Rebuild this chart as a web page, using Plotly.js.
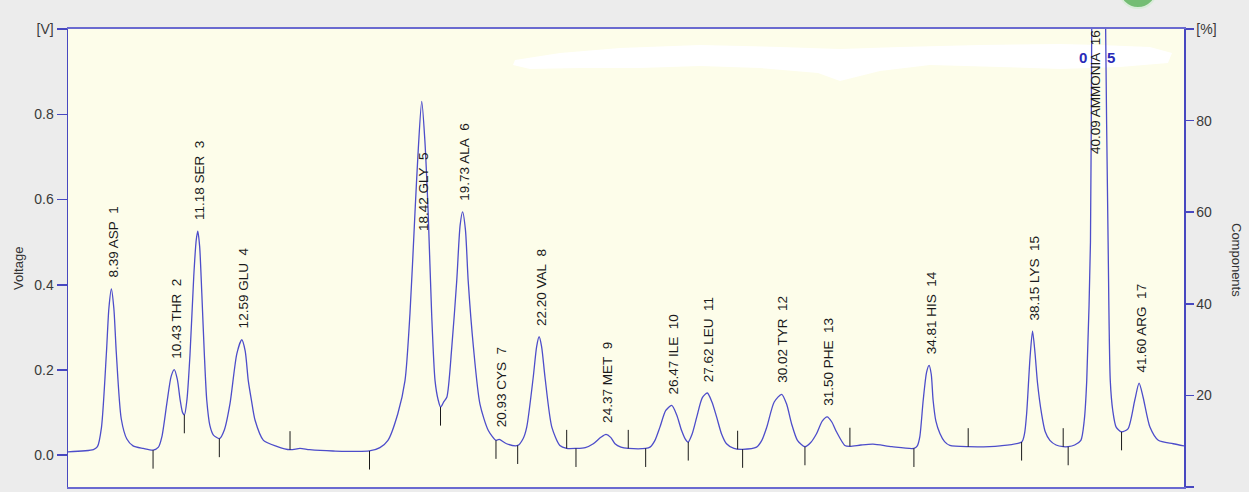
<!DOCTYPE html>
<html>
<head>
<meta charset="utf-8">
<script src="https://cdn.plot.ly/plotly-3.0.1.min.js"></script>
<style>
  html, body { margin: 0; padding: 0; background: #ececec; }
  #chart { width: 1249px; height: 492px; }
</style>
</head>
<body>
<div id="chart"></div>
<script>
// ---- chromatogram trace (retention time [min], detector voltage [V]) ----
const time = [
  6.98, 7.82, 7.95, 8.08, 8.24, 8.32, 8.40, 8.48, 8.56, 8.72, 8.90, 9.10, 9.43, 9.75,
  9.92, 10.03, 10.19, 10.33, 10.43, 10.53, 10.62, 10.70, 10.76,
  10.84, 10.94, 11.06, 11.14, 11.19, 11.25, 11.32, 11.40, 11.48, 11.58, 11.69, 11.89,
  12.05, 12.23, 12.45, 12.61, 12.72, 12.82, 12.92, 13.04, 13.31, 13.74, 14.17, 14.49, 14.80, 15.56, 16.73, 17.07,
  17.33, 17.65, 17.88, 18.04, 18.20, 18.31, 18.42, 18.52, 18.63, 18.74, 18.85, 18.95, 19.03,
  19.13, 19.23, 19.39, 19.55, 19.66, 19.74, 19.83, 19.92, 20.09, 20.30, 20.57, 20.82, 20.92, 21.16, 21.52,
  21.70, 21.81, 22.02, 22.13, 22.21, 22.29, 22.40, 22.62, 22.88, 23.10, 23.40, 23.70,
  23.96, 24.20, 24.37, 24.52, 24.66, 24.85, 25.09, 25.65,
  25.79, 25.95, 26.11, 26.30, 26.49, 26.65, 26.81, 26.93, 27.02,
  27.15, 27.30, 27.48, 27.64, 27.79, 27.94, 28.10, 28.26, 28.50, 28.78, 29.23,
  29.40, 29.56, 29.80, 30.04, 30.20, 30.36, 30.55, 30.79,
  30.98, 31.17, 31.35, 31.51, 31.66, 31.81, 32.08, 32.24, 32.60, 32.99, 33.60, 34.31,
  34.42, 34.50, 34.61, 34.72, 34.80, 34.87, 34.93, 35.02, 35.15, 35.30, 35.47, 36.06, 37.09, 37.79,
  37.88, 37.95, 38.06, 38.14, 38.22, 38.30, 38.43, 38.55, 38.70, 38.90, 39.13, 39.29, 39.50, 39.70,
  39.81, 39.89, 40.01, 40.05, 40.14, 40.28, 40.42, 40.50, 40.58, 40.65, 40.73, 40.84, 41.01,
  41.22, 41.44, 41.58, 41.71, 41.93, 42.20, 42.68, 43.03
];
const voltage = [
  0.008, 0.013, 0.020, 0.065, 0.240, 0.345, 0.390, 0.345, 0.240, 0.085, 0.038, 0.022, 0.016, 0.012,
  0.019, 0.043, 0.121, 0.185, 0.201, 0.178, 0.130, 0.100, 0.095,
  0.130, 0.238, 0.420, 0.505, 0.526, 0.490, 0.380, 0.240, 0.129, 0.070, 0.048, 0.039,
  0.060, 0.121, 0.238, 0.271, 0.245, 0.175, 0.130, 0.082, 0.035, 0.021, 0.013, 0.016, 0.013, 0.010, 0.010, 0.018,
  0.035, 0.098, 0.175, 0.332, 0.566, 0.720, 0.830, 0.740, 0.565, 0.332, 0.175, 0.130, 0.113,
  0.125, 0.136, 0.253, 0.409, 0.540, 0.571, 0.530, 0.409, 0.253, 0.120, 0.058, 0.035, 0.037, 0.027, 0.023,
  0.040, 0.066, 0.183, 0.255, 0.278, 0.255, 0.183, 0.066, 0.023, 0.016, 0.016, 0.018,
  0.027, 0.042, 0.049, 0.042, 0.027, 0.019, 0.016, 0.016,
  0.019, 0.035, 0.066, 0.105, 0.117, 0.095, 0.058, 0.038, 0.031,
  0.050, 0.090, 0.135, 0.146, 0.125, 0.090, 0.050, 0.027, 0.016, 0.014, 0.019,
  0.035, 0.066, 0.125, 0.143, 0.120, 0.074, 0.035, 0.020,
  0.030, 0.051, 0.080, 0.090, 0.078, 0.055, 0.023, 0.021, 0.024, 0.026, 0.020, 0.016,
  0.022, 0.043, 0.129, 0.195, 0.211, 0.190, 0.129, 0.080, 0.051, 0.032, 0.023, 0.020, 0.022, 0.031,
  0.050, 0.098, 0.230, 0.291, 0.240, 0.170, 0.098, 0.055, 0.035, 0.024, 0.020, 0.020, 0.024, 0.035,
  0.082, 0.175, 0.500, 1.000, 2.200, 3.200, 2.200, 1.000, 0.500, 0.175, 0.105, 0.066, 0.055,
  0.062, 0.129, 0.169, 0.136, 0.066, 0.035, 0.027, 0.022
];

// ---- identified peaks ----
const peakTimes   = [8.39, 10.43, 11.18, 12.59, 18.42, 19.73, 20.93, 22.20, 24.37, 26.47, 27.62, 30.02, 31.50, 34.81, 38.15, 40.09, 41.60];
const peakNames   = ["ASP", "THR", "SER", "GLU", "GLY", "ALA", "CYS", "VAL", "MET", "ILE", "LEU", "TYR", "PHE", "HIS", "LYS", "AMMONIA", "ARG"];
const peakNumbers = [1, 2, 3, 4, 5, 6, 7, 8, 9, 10, 11, 12, 13, 14, 15, 16, 17];
const peakHeights = [0.390, 0.201, 0.526, 0.271, 0.830, 0.571, 0.037, 0.278, 0.049, 0.117, 0.146, 0.143, 0.090, 0.211, 0.291, 3.200, 0.169];

// ---- integration boundaries (time, signal level, marker direction +1 up / -1 down) ----
const boundaryTimes  = [9.746, 10.756, 11.886, 14.168, 16.734, 19.026, 20.817, 21.518, 23.10, 23.40, 25.088, 25.65, 27.025, 28.619, 28.78, 30.792, 32.244, 34.31, 36.063, 37.787, 39.13, 39.29, 41.014];
const boundaryLevels = [0.012, 0.095, 0.039, 0.013, 0.010, 0.113, 0.035, 0.023, 0.016, 0.016, 0.016, 0.016, 0.031, 0.014, 0.014, 0.020, 0.021, 0.016, 0.020, 0.031, 0.020, 0.020, 0.055];
const boundaryDirs   = [-1, -1, -1, 1, -1, -1, -1, -1, 1, -1, 1, -1, -1, 1, -1, -1, 1, -1, 1, -1, 1, -1, -1];

// ---- axis tick labels ----
const leftTickVals  = [0, 0.2, 0.4, 0.6, 0.8, 1.0];
const leftTickText  = ["0.0", "0.2", "0.4", "0.6", "0.8", "[V]"];
const rightTickVals = [0, 20, 40, 60, 80, 100];
const rightTickText = ["0", "20", "40", "60", "80", "[%]"];

// ---------------- drawing ----------------
const W = 1249, H = 492;
const M = {l: 68, r: 65, t: 29, b: 5};
const px = x => (x - M.l) / (W - M.l - M.r);
const py = y => (H - M.b - y) / (H - M.t - M.b);

const TICK_LEN = 0.0435;
const mx = [], my = [];
boundaryTimes.forEach((t, i) => {
  mx.push(t, t, null);
  my.push(boundaryLevels[i], boundaryLevels[i] + boundaryDirs[i] * TICK_LEN, null);
});

const traces = [
  {
    x: time, y: voltage, type: 'scatter', mode: 'lines',
    line: {color: '#4d4dca', width: 1.3, shape: 'spline', smoothing: 0.7},
    hoverinfo: 'skip', showlegend: false
  },
  {
    x: mx, y: my, type: 'scatter', mode: 'lines',
    line: {color: '#1a1a1a', width: 1},
    hoverinfo: 'skip', showlegend: false
  },
  {
    x: [null], y: [null], yaxis: 'y2', type: 'scatter', mode: 'lines',
    hoverinfo: 'skip', showlegend: false
  }
];

const FONT = 'Liberation Sans, Arial, sans-serif';
const labelFont = {family: FONT, size: 13.5, color: '#1a1a1a'};
const labelAnchorOverride = {GLY: 0.522, CYS: 0.062};
const annotations = peakTimes.map((t, i) => {
  const name = peakNames[i];
  const txt = t.toFixed(2) + ' ' + name + '\u00a0\u00a0' + peakNumbers[i];
  if (name === 'AMMONIA') {
    return {x: t, y: 1.0, xref: 'x', yref: 'y', text: txt, showarrow: false, textangle: -90,
            xanchor: 'center', yanchor: 'top', xshift: 2, yshift: 1, font: labelFont};
  }
  const base = (name in labelAnchorOverride) ? labelAnchorOverride[name] : peakHeights[i];
  const shift = (name in labelAnchorOverride) ? 0 : 9;
  return {x: t, y: base, xref: 'x', yref: 'y', text: txt, showarrow: false, textangle: -90,
          xanchor: 'center', yanchor: 'bottom', xshift: 2, yshift: shift, font: labelFont};
});

annotations.push(
  {x: px(18), y: py(269), xref: 'paper', yref: 'paper', text: 'Voltage', showarrow: false,
   xanchor: 'center', yanchor: 'middle',
   textangle: -90, font: {family: FONT, size: 13, color: '#333'}},
  {x: px(1237), y: py(260), xref: 'paper', yref: 'paper', text: 'Components', showarrow: false,
   xanchor: 'center', yanchor: 'middle',
   textangle: 90, font: {family: FONT, size: 13, color: '#333'}},
  {x: px(1083), y: py(57), xref: 'paper', yref: 'paper', text: '<b>0</b>', showarrow: false,
   xanchor: 'center', yanchor: 'middle',
   font: {family: FONT, size: 15, color: '#2a2ab8'}},
  {x: px(1111), y: py(57), xref: 'paper', yref: 'paper', text: '<b>5</b>', showarrow: false,
   xanchor: 'center', yanchor: 'middle',
   font: {family: FONT, size: 15, color: '#2a2ab8'}}
);

// redaction scribble (white) across top of plot
const blobPts = [[515,60],[560,53],[620,48],[700,45],[780,47],[840,49],[900,47],[980,45],[1060,44],[1100,45],[1150,47],[1172,53],[1168,63],
                 [1120,67],[1060,69],[1000,67],[930,65],[880,71],[840,81],[818,73],[760,68],[700,66],[640,68],[580,68],[530,69],[513,65]];
const blobPath = 'M ' + blobPts.map(p => px(p[0]).toFixed(5) + ' ' + py(p[1]).toFixed(5)).join(' L ') + ' Z';

const shapes = [
  {type: 'path', xref: 'paper', yref: 'paper', path: blobPath, fillcolor: '#ffffff', line: {width: 0}, layer: 'below'},
  {type: 'circle', xref: 'paper', yref: 'paper', x0: px(1119), x1: px(1157), y0: py(-30), y1: py(8),
   fillcolor: '#74bd74', line: {color: '#d9ecd9', width: 2}, layer: 'above'}
];

const tickFont = {family: FONT, size: 14, color: '#3a3a3a'};
const layout = {
  width: W, height: H,
  margin: M,
  paper_bgcolor: '#ececec',
  plot_bgcolor: '#fdfdea',
  showlegend: false,
  xaxis: {
    range: [7.0, 43.03], showgrid: false, zeroline: false, showticklabels: false,
    ticks: '', showline: true, mirror: true, linecolor: '#6a6ad0', linewidth: 2
  },
  yaxis: {
    range: [-0.0745, 1.0], tickvals: leftTickVals, ticktext: leftTickText,
    showgrid: false, zeroline: false, showline: true, linecolor: '#4848c0', linewidth: 1.5,
    ticks: 'outside', ticklen: 10, tickwidth: 1.5, tickcolor: '#4848c0', tickfont: tickFont
  },
  yaxis2: {
    overlaying: 'y', side: 'right', anchor: 'x',
    range: [0, 100], tickvals: rightTickVals, ticktext: rightTickText,
    showgrid: false, zeroline: false, showline: true, linecolor: '#4848c0', linewidth: 1.5,
    ticks: 'outside', ticklen: 8, tickwidth: 1.5, tickcolor: '#4848c0', tickfont: tickFont
  },
  annotations: annotations,
  shapes: shapes
};

Plotly.newPlot('chart', traces, layout, {staticPlot: true, displayModeBar: false});
</script>
</body>
</html>
